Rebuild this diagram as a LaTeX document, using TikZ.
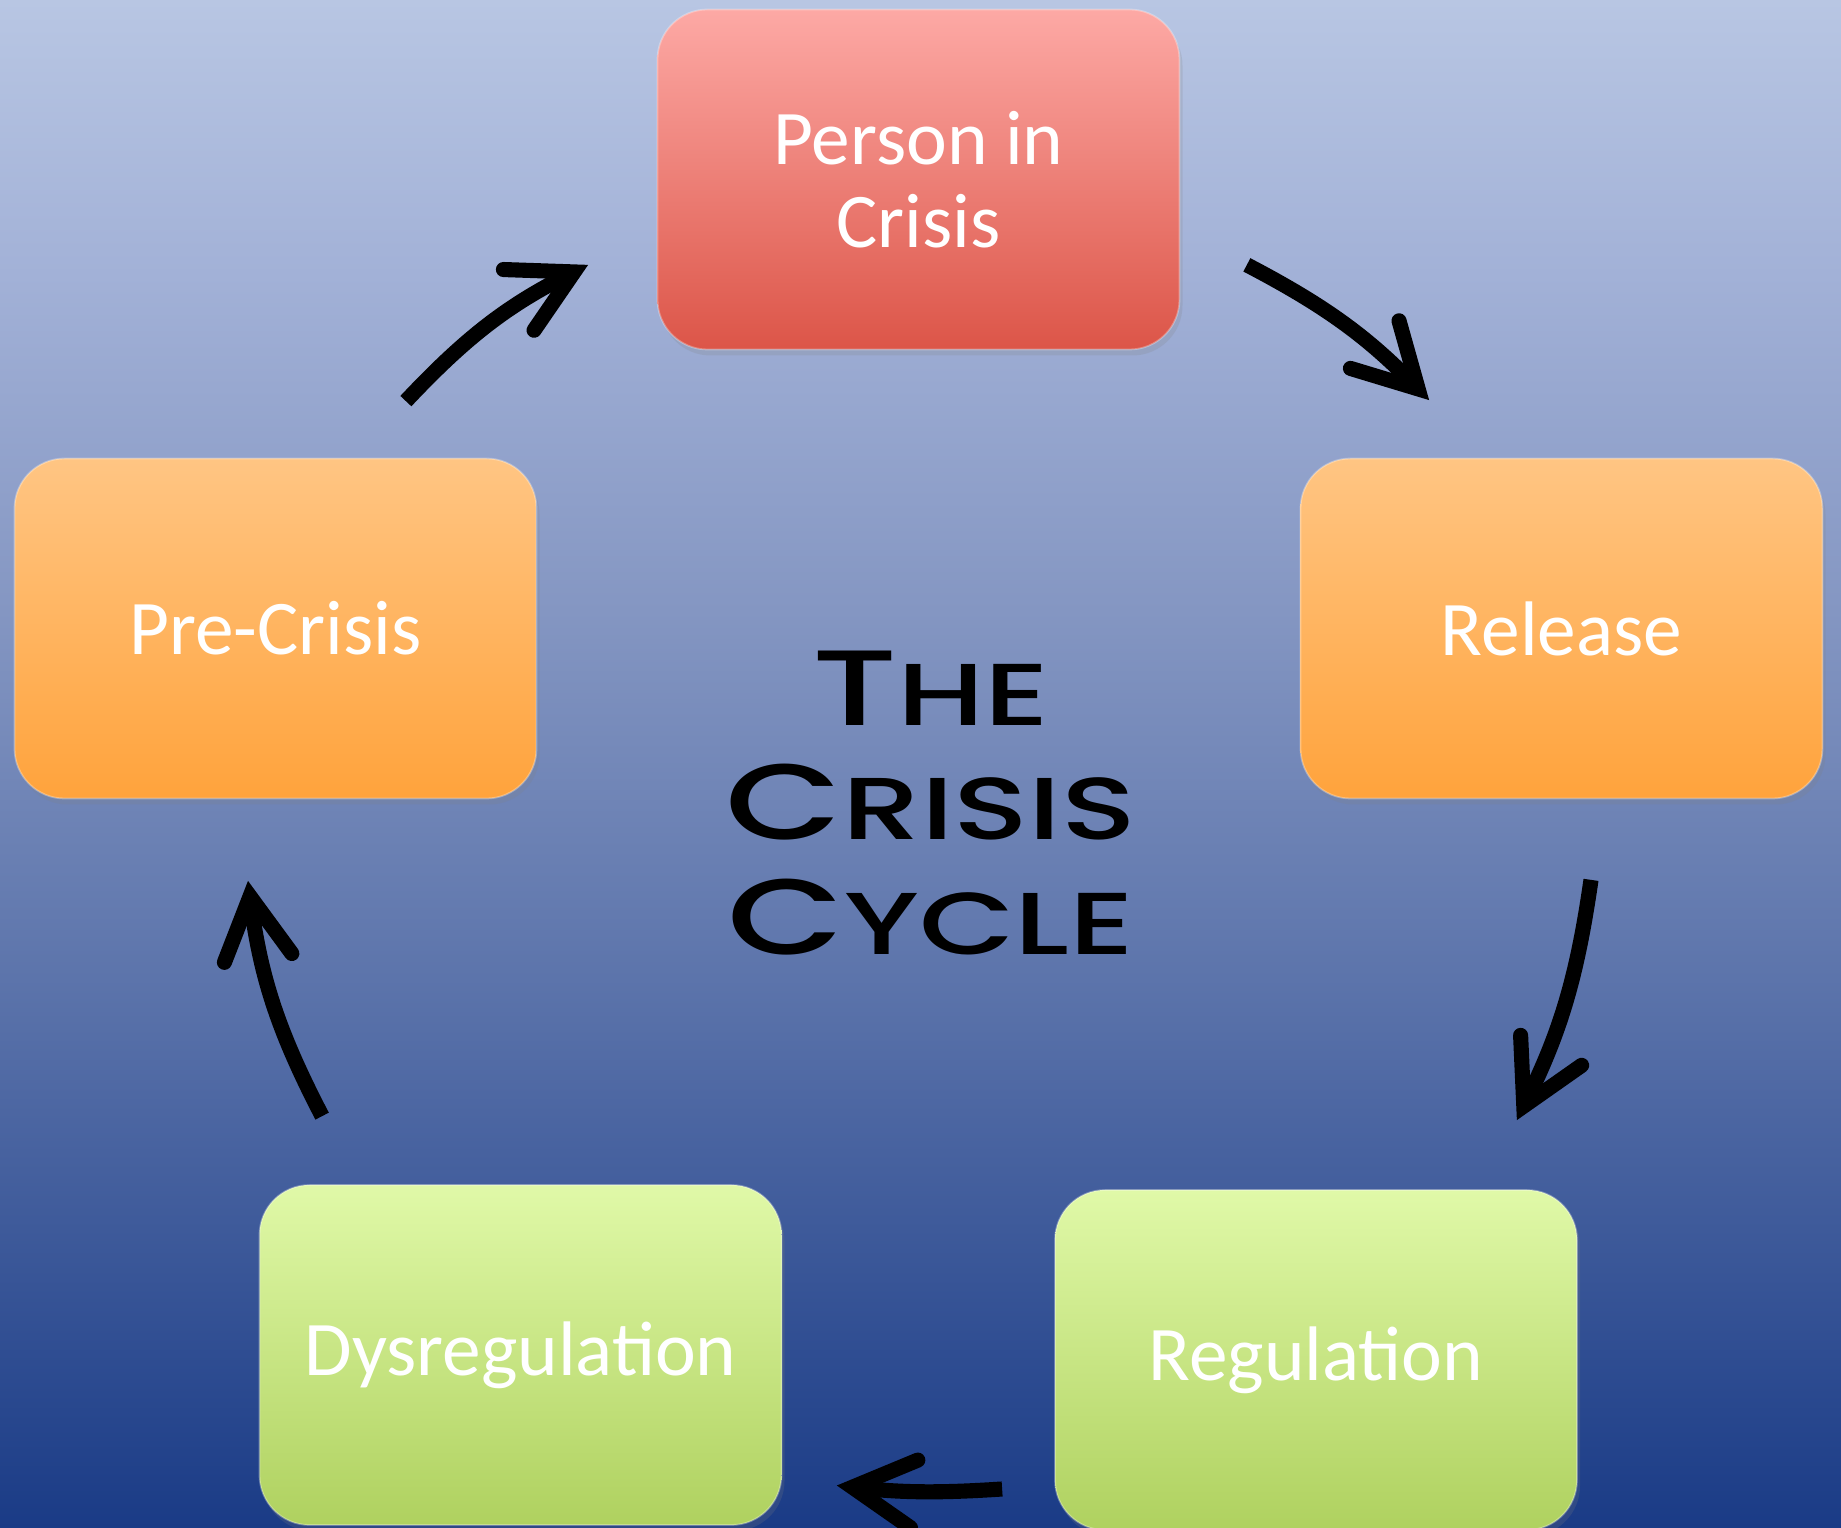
\documentclass[tikz,border=0pt]{standalone}
\usepackage{fontspec}
\setmainfont{Carlito}
\newfontfamily\titlefont{Poppins}[UprightFont={* Medium},FakeStretch=1.41]
\usetikzlibrary{arrows.meta,positioning,shadows}
% backdrop, light at the top and deep blue at the bottom
\definecolor{BgTop}{HTML}{B8C6E3}
\definecolor{BgHigh}{HTML}{A2B1D7}
\definecolor{BgMid}{HTML}{8496C2}
\definecolor{BgLow}{HTML}{5C74AB}
\definecolor{BgBot}{HTML}{1A3B86}
% box fills
\definecolor{CrisisTop}{HTML}{FDA9A5}
\definecolor{CrisisBot}{HTML}{DC5548}
\definecolor{WarmTop}{HTML}{FFC583}
\definecolor{WarmBot}{HTML}{FFA33C}
\definecolor{CalmTop}{HTML}{E0F9A8}
\definecolor{CalmBot}{HTML}{AFD15F}
\pgfdeclareverticalshading{backdrop}{100bp}{color(0bp)=(BgBot); color(25bp)=(BgBot); color(43bp)=(BgLow); color(55bp)=(BgMid); color(66bp)=(BgHigh); color(75bp)=(BgTop); color(100bp)=(BgTop)}
% small caps by hand: first letter large, the rest smaller
\newcommand{\capword}[2]{{\fontsize{30.5}{32.5}\selectfont #1}{\fontsize{25}{32.5}\selectfont #2}}

\begin{document}
\begin{tikzpicture}[
    box/.style={rectangle,rounded corners=5mm,minimum width=5.22cm,minimum height=3.40cm,align=center,text=white,font=\fontsize{22}{23.5}\selectfont,draw=white,draw opacity=0.3,line width=0.5pt,drop shadow={opacity=0.2,shadow xshift=0.3mm,shadow yshift=-0.6mm}},
    hot/.style={box,top color=CrisisTop,bottom color=CrisisBot},
    warm/.style={box,top color=WarmTop,bottom color=WarmBot},
    calm/.style={box,top color=CalmTop,bottom color=CalmBot},
    cyc/.style={line width=4.3pt,-{Straight Barb[length=6.2mm,width=6.8mm,line cap=round,line join=miter]}}
]
\useasboundingbox (0,0) rectangle (18.41,-15.28);
\fill[shading=backdrop] (0,0) rectangle (18.41,-15.28);
\clip (0,0) rectangle (18.41,-15.28);

% the five stages
\node[hot] (crisis) at (9.185,-1.795) {Person in\\Crisis};
\node[warm] (release) at (15.615,-6.285) {Release};
\node[calm] (reg) at (13.16,-13.60) {Regulation};
\node[calm] (dys) at (5.205,-13.55) {Dysregulation};
\node[warm] (pre) at (2.755,-6.285) {Pre-Crisis};

\node[font=\titlefont\fontsize{25}{32.5}\selectfont,align=center] (title) at (9.31,-8.03)
    {\capword{T}{HE}\\\capword{C}{RISIS}\\\capword{C}{YCLE}};

% arrows round the cycle
\draw[cyc] ([shift={(-1.315,0.565)}]pre.north east) to[bend left=10] ([shift={(-0.685,0.855)}]crisis.south west);
\draw[cyc] ([shift={(0.665,0.855)}]crisis.south east) to[bend left=9] ([shift={(1.295,0.575)}]release.north west);
\draw[cyc] ([shift={(0.295,-0.805)}]release.south) to[bend left=9] ([shift={(-0.61,0.69)}]reg.north east);
\draw[cyc] ([shift={(-0.52,-1.29)}]reg.west) to[bend left=5] ([shift={(0.545,-1.305)}]dys.east);
\draw[cyc] ([shift={(0.635,0.68)}]dys.north west) to[bend left=10] ([shift={(-0.275,-0.815)}]pre.south);
\end{tikzpicture}
\end{document}
